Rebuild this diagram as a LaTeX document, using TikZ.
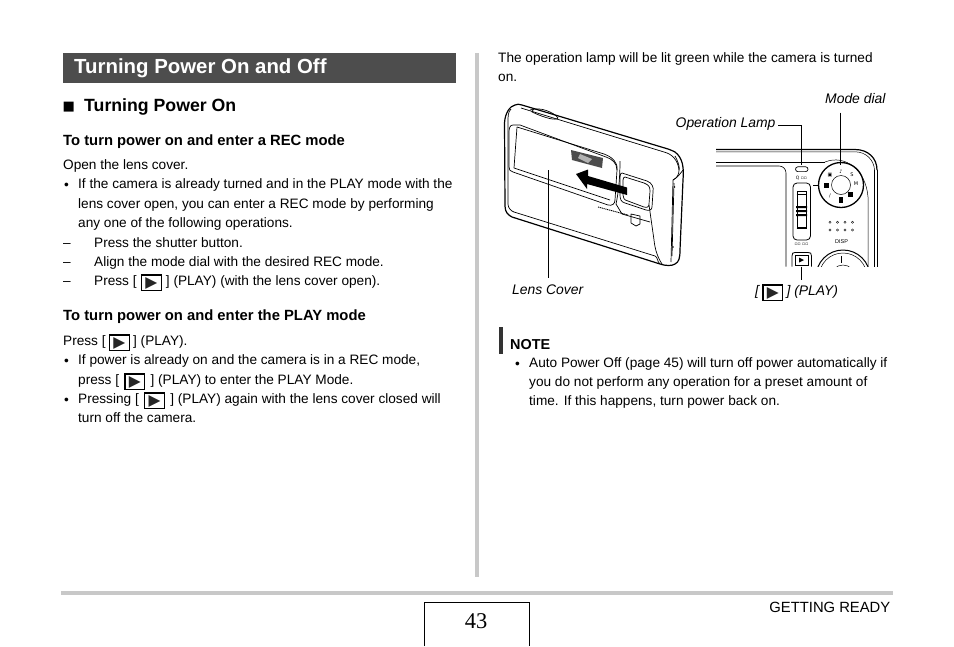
\documentclass[tikz,border=0pt]{standalone}
\usepackage{fontspec}
\setmainfont{Liberation Sans}
\newfontfamily\djv{DejaVu Sans}
\newfontfamily\serifnum{Liberation Serif}
\newcommand{\bodyfs}{\fontsize{13.64}{15}\selectfont}
\newcommand{\playkey}{\raisebox{-3.6pt}{\setlength{\fboxsep}{0pt}\setlength{\fboxrule}{1.2pt}\fbox{\hbox to 18.5pt{\hss\rule{0pt}{13pt}\raisebox{1pt}{\fontsize{15.5}{15}\djv\textcolor{black!85}{▶}}\hss}}}}
\newcommand{\pk}[1]{[\hspace{#1pt}\playkey\hspace{#1pt}]}
\newcommand{\dashitem}[1]{\hbox to 31pt{–\hss}#1}
\definecolor{headgray}{HTML}{4D4D4D}
\definecolor{rulegray}{HTML}{C8C8C8}
\tikzset{
  x=1pt,y=-1pt,
  txt/.style={anchor=base west,inner sep=0pt,font=\bodyfs,text=black},
  capt/.style={anchor=base west,inner sep=0pt,font=\fontsize{13.9}{15}\selectfont\itshape},
  tiny/.style={inner sep=0pt,font=\fontsize{5}{5}\selectfont\djv},
  leader/.style={draw=black,line width=0.7pt},
  cam/.style={draw=black,line width=0.7pt,line join=round},
  camb/.style={draw=black,line width=1.2pt,line join=round},
}
\begin{document}
\begin{tikzpicture}
\useasboundingbox (0,0) rectangle (954,646);
% frame
\fill[headgray] (63,53) rectangle (456,83);
\fill[rulegray] (475,53) rectangle (479,577);
\fill[rulegray] (61,591) rectangle (893,595);
\draw[black,line width=0.8pt] (424.5,646) -- (424.5,602.5) -- (529.5,602.5) -- (529.5,646);
\node[anchor=base,inner sep=0pt,font=\fontsize{22.5}{24}\selectfont\serifnum] (pg) at (476,628) {43};
\node[anchor=base east,inner sep=0pt,font=\fontsize{14.8}{16}\selectfont] (gr) at (890.5,612) {GETTING READY};
% left col
\node[anchor=base west,inner sep=0pt,text=white,font=\fontsize{20.4}{24}\selectfont\bfseries] (h1) at (74,73) {Turning Power On and Off};
\node[anchor=base west,inner sep=0pt,font=\fontsize{13}{15}\selectfont\djv] (sq) at (62.5,110) {■};
\node[anchor=base west,inner sep=0pt,font=\fontsize{17.7}{18}\selectfont\bfseries] (h2) at (84,111) {Turning Power On};
\node[anchor=base west,inner sep=0pt,font=\fontsize{14.8}{16}\selectfont\bfseries] (h3) at (63,145) {To turn power on and enter a REC mode};
\node[txt] (a1) at (63,169) {Open the lens cover.};
\node[txt] (b1) at (64,189) {•};
\node[txt] (a2) at (78,188) {If the camera is already turned and in the PLAY mode with the};
\node[txt] (a3) at (78,208) {lens cover open, you can enter a REC mode by performing};
\node[txt] (a4) at (78,227) {any one of the following operations.};
\node[txt] (a5) at (63,247) {\dashitem{Press the shutter button.}};
\node[txt] (a6) at (63,266) {\dashitem{Align the mode dial with the desired REC mode.}};
\node[txt] (a7) at (63,285) {\dashitem{Press \pk{4.2} (PLAY) (with the lens cover open).}};
\node[anchor=base west,inner sep=0pt,font=\fontsize{14.8}{16}\selectfont\bfseries] (h4) at (63,320) {To turn power on and enter the PLAY mode};
\node[txt] (a8) at (63,345) {Press \pk{3.3} (PLAY).};
\node[txt] (b2) at (64,365) {•};
\node[txt] (a9) at (78,364) {If power is already on and the camera is in a REC mode,};
\node[txt] (a10) at (78,384) {press \pk{5.3} (PLAY) to enter the PLAY Mode.};
\node[txt] (b3) at (64,404) {•};
\node[txt] (a11) at (78,403) {Pressing \pk{5.3} (PLAY) again with the lens cover closed will};
\node[txt] (a12) at (78,422) {turn off the camera.};
% right col
\node[txt] (r1) at (498,62) {The operation lamp will be lit green while the camera is turned};
\node[txt] (r2) at (498,81) {on.};
\node[capt] (lmd) at (825,103) {Mode dial};
\node[capt] (lop) at (675.5,127) {Operation Lamp};
\node[capt] (llc) at (512,294) {Lens Cover};
\node[capt] (lpl) at (755,295) {\pk{3.3} (PLAY)};
% note
\fill[black!80] (499,327) rectangle (503,354);
\node[anchor=base west,inner sep=0pt,font=\fontsize{14.4}{16}\selectfont\bfseries] (nt) at (510,349) {NOTE};
\node[txt] (b4) at (515,368) {•};
\node[txt] (n1) at (529,367) {Auto Power Off (page 45) will turn off power automatically if};
\node[txt] (n2) at (529,386) {you do not perform any operation for a preset amount of};
\node[txt] (n3) at (529,405) {time. If this happens, turn power back on.};
% front camera
\draw[camb] (515,105) .. controls (510,106) and (505,113) .. (504.5,123) -- (505,206) .. controls (505,212) and (508,215) .. (512,217) -- (660,264) .. controls (666,266) and (672,266) .. (675,264) .. controls (679,262) and (680,258) .. (680,250) -- (683,180) .. controls (684,168) and (683,158) .. (675,152) .. controls (673,151) and (671,150) .. (668,149) -- (522,105) .. controls (519,104) and (517,104) .. (515,105) -- cycle;
\draw[cam] (511,109) .. controls (508,112) and (508,116) .. (508,122) -- (508,204) .. controls (508,208) and (511,211) .. (514,212);
\draw[cam] (514,212) -- (655,256) .. controls (658,257) and (657,262) .. (660,264);
\draw[cam] (521,108) -- (664,152) .. controls (672,154) and (678,160) .. (679,170);
\draw[cam] (675,156) .. controls (680,165) and (681,172) .. (676,178) -- (673,180) -- (671,262);
\draw[cam] (673,180) .. controls (678,177) and (680,174) .. (683,170);
\draw[cam] (530,110) .. controls (540,106) and (555,113) .. (558,118);
\draw[cam] (534,108) -- (532,112) .. controls (545,118) and (556,121) .. (558,118);
\draw[cam] (513,125) .. controls (510,125) and (509,128) .. (509,132) -- (509,167) .. controls (509,170) and (510,171) .. (513,172) -- (608,205) .. controls (612,206) and (615,204) .. (615,200) -- (617,170) .. controls (617,163) and (612,159) .. (606,157) -- (520,125) -- cycle;
\draw[cam] (517,127) -- (514,168) -- (610,200) ;
\draw[cam] (517,127) -- (604,154) .. controls (612,157) and (618,162) .. (617,170);
\draw[cam] (620,161) .. controls (620,180) and (618,195) .. (616,204);
\draw[cam] (616,204) -- (622,214) -- (650,222);
\draw[cam] (622,173) -- (647,181) .. controls (652,183) and (654,187) .. (653,192) -- (652,207) .. controls (652,210) and (649,211) .. (646,210) -- (625,203) .. controls (621,202) and (620,199) .. (620,195) -- (620,177) .. controls (620,174) and (621,173) .. (622,173) -- cycle;
\draw[cam] (625,177) -- (644,183) .. controls (649,185) and (650,187) .. (650,191) -- (649,204) .. controls (649,207) and (647,208) .. (644,207) -- (628,201) .. controls (624,200) and (623,198) .. (623,195) -- (623,180) .. controls (623,178) and (624,177) .. (625,177) -- cycle;
\fill[black!70] (571,150) -- (603,158) -- (602,168) -- (572,160) -- cycle;
\fill[black!30] (580,154) -- (592,159) -- (588,163) -- (578,158) -- cycle;
\draw[cam] (631,214) -- (640,216) -- (640,224) -- (636,226) -- (631,223) -- cycle;
\draw[line width=0.9pt,dash pattern=on 1.2pt off 0.7pt] (598,207) -- (628,215);
\fill[black] (576,174) -- (588,169.5) -- (588,176) -- (627,187.5) -- (627,195) -- (587,184) -- (587,189) -- cycle;
\draw[cam] (674,183) -- (672,256);
\fill (674.5,187) circle (0.9);
\fill (673,247) circle (0.9);
\draw[cam] (649,205) -- (654,240) .. controls (655,250) and (658,258) .. (662,264);
% back camera
\draw[line width=1.2pt] (716,149.5) -- (855,149.5) .. controls (868,149.5) and (877,158) .. (877,170);
\draw[line width=0.5pt] (716,151.8) -- (855,151.8) .. controls (866,151.8) and (874,160) .. (874.5,170);
\draw[line width=0.9pt] (877,170) -- (877,266.5);
\draw[line width=0.5pt] (874.5,170) -- (874.5,266.5);
\draw[line width=0.5pt] (716,162) -- (825,162);
\draw[line width=0.6pt] (716,166) -- (779,166) .. controls (783,166) and (786,169) .. (786,173) -- (786,266.5);
\draw[line width=0.5pt] (825,162) .. controls (845,154) and (866,170) .. (868,197) -- (868,266.5);
\draw[line width=0.7pt,rounded corners=2.4pt] (795.5,166.8) rectangle (808,171.6);
\node[tiny,font=\fontsize{4.5}{5}\selectfont\djv] (zl) at (801.5,178) {Q ▫▫};
\draw[line width=0.8pt,rounded corners=4pt] (793,183) rectangle (810.5,240);
\draw[line width=0.6pt] (797,191) rectangle (806,227);
\draw[line width=0.5pt] (796.5,194) -- (806.5,194) (796.5,228) -- (806.5,228);
\fill[black] (796,206) rectangle (807,208) (796,210) rectangle (807,212) (796,214) rectangle (807,216);
\node[tiny,font=\fontsize{4.5}{5}\selectfont\djv] (zr) at (801.5,244.5) {▫▫ ▫▫};
\draw[line width=0.8pt] (792,266.5) -- (792,256) .. controls (792,253) and (793,252.5) .. (795,252.5) -- (808,252.5) .. controls (810.5,252.5) and (811.5,253) .. (811.5,256) -- (811.5,266.5);
\draw[line width=0.7pt] (795.5,255.5) rectangle (808,265);
\fill[black] (799,257.5) -- (804,260) -- (799,262.5) -- cycle;
% dial
\draw[line width=1.3pt] (841,185) circle (22.5);
\draw[line width=0.5pt] (841,185) circle (9.5);
\draw[line width=1pt] (813,185.5) -- (819,185.5);
\node[tiny] (d2) at (830,175) {▣};
\node[tiny] (d3) at (841,171.5) {♪};
\node[tiny] (d4) at (852,174.5) {S};
\node[tiny] (d5) at (856,184) {M};
\node[tiny] (d8) at (830,195.5) {/};
\fill[black] (824,183) rectangle (828.5,187.5);
\fill[black] (838.5,197) rectangle (843,203);
\fill[black] (848,191.5) rectangle (853,197);
\foreach \px in {830,837.5,845,852.5} \foreach \py in {222.3,230} \draw[line width=0.4pt] (\px,\py) circle (1.1);
\node[inner sep=0pt,font=\fontsize{5.5}{6}\selectfont] (dsp) at (841.5,242) {DISP};
\begin{scope}
\clip (810,240) rectangle (870,266.5);
\draw[line width=1pt] (843,277) circle (27);
\draw[line width=0.5pt] (843,277) circle (24);
\draw[line width=0.5pt] (843,277) circle (12);
\draw[line width=0.5pt] (841.5,256) -- (841.5,263);
\end{scope}
% leaders
\coordinate (c1) at (548.5,170);
\coordinate (c2) at (548.5,278);
\coordinate (c3) at (778,125.5);
\coordinate (c4) at (801.5,125.5);
\coordinate (c5) at (801.5,165);
\coordinate (c6) at (840,112.5);
\coordinate (c7) at (840,165);
\coordinate (c8) at (801.5,266.5);
\coordinate (c9) at (801.5,280);
\draw[leader] (c1) -- (c2);
\draw[leader] (c3) -- (c4) -- (c5);
\draw[leader] (c6) -- (c7);
\draw[leader] (c8) -- (c9);
\end{tikzpicture}
\end{document}
